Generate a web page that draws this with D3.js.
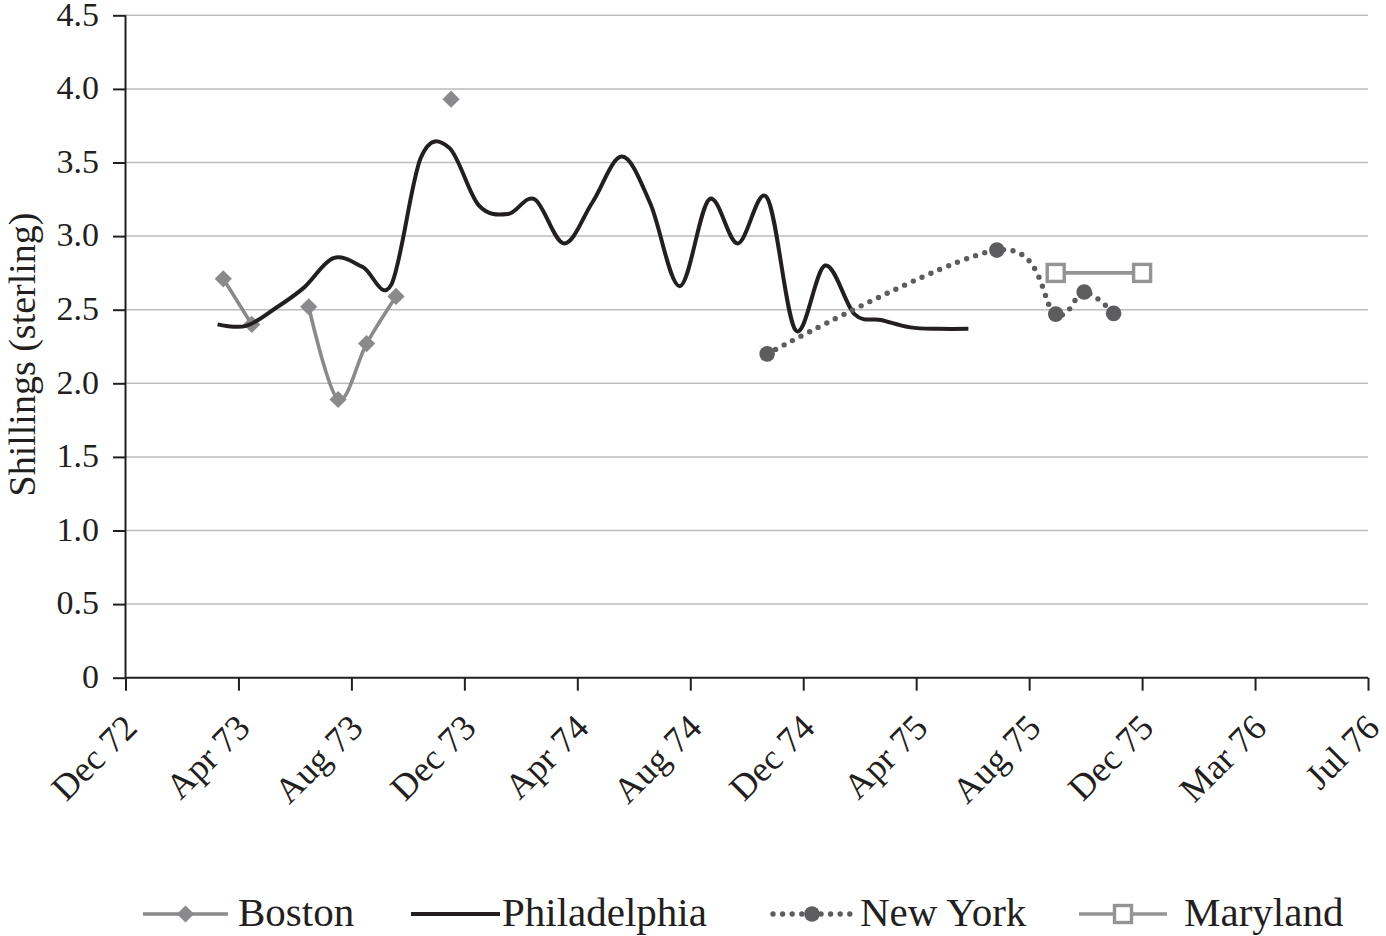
<!DOCTYPE html>
<html lang="en">
<head>
  <meta charset="UTF-8">
  <title>Shillings (sterling)</title>
  <script src="https://d3js.org/d3.v7.min.js"></script>
</head>
<body>
</body>
<style>
  body {
    margin: 0;
    padding: 0;
    background: #fff;
  }

  text {
    font-family: "Liberation Serif", "Times New Roman", serif;
    fill: #231f20;
  }
</style>
<script>
  const width = 1386
  const height = 936

  // axis ticks
  const xTickDates = ["1972-12-25", "1973-04-23", "1973-08-20", "1973-12-17", "1974-04-15", "1974-08-12",
    "1974-12-09", "1975-04-07", "1975-08-04", "1975-12-01", "1976-03-29", "1976-07-26"]
  const xTickLabels = ["Dec 72", "Apr 73", "Aug 73", "Dec 73", "Apr 74", "Aug 74",
    "Dec 74", "Apr 75", "Aug 75", "Dec 75", "Mar 76", "Jul 76"]
  const yTicks = [0, 0.5, 1, 1.5, 2, 2.5, 3, 3.5, 4, 4.5]
  const yTickLabels = ["0", "0.5", "1.0", "1.5", "2.0", "2.5", "3.0", "3.5", "4.0", "4.5"]

  // series
  const bostonDates = ["1973-04-07", "1973-05-07", "1973-06-06", "1973-07-06", "1973-08-06",
    "1973-09-05", "1973-10-06", "1973-11-04", "1973-12-03"]
  const bostonValues = [2.71, 2.40, null, 2.52, 1.89, 2.27, 2.59, null, 3.93]

  const phillyDates = ["1973-04-01", "1973-05-01", "1973-06-01", "1973-07-01", "1973-08-01", "1973-09-01",
    "1973-10-01", "1973-11-01", "1973-12-01", "1974-01-01", "1974-02-01", "1974-03-01", "1974-04-01",
    "1974-05-01", "1974-06-01", "1974-07-01", "1974-08-01", "1974-09-01", "1974-10-01", "1974-11-01",
    "1974-12-01", "1975-01-01", "1975-02-01", "1975-03-01", "1975-04-01", "1975-05-01", "1975-06-01"]
  const phillyValues = [2.40, 2.39, 2.51, 2.65, 2.85, 2.79, 2.67, 3.53, 3.60, 3.21, 3.15, 3.25, 2.95,
    3.23, 3.54, 3.22, 2.66, 3.25, 2.95, 3.26, 2.36, 2.80, 2.47, 2.43, 2.38, 2.37, 2.37]

  const nyDates = ["1974-11-01", "1975-07-01", "1975-09-01", "1975-10-01", "1975-11-01"]
  const nyValues = [2.20, 2.905, 2.47, 2.62, 2.475]

  const marylandDates = ["1975-09-01", "1975-12-01"]
  const marylandValues = [2.75, 2.75]

  const seriesNames = ["Boston", "Philadelphia", "New York", "Maryland"]

  const parse = d3.utcParse("%Y-%m-%d")
  const zip = (dates, values) => dates.map((d, i) => ({ date: parse(d), value: values[i] }))

  const series = [
    { name: seriesNames[0], data: zip(bostonDates, bostonValues), color: '#8a8a8c', width: 3.6, dash: null, smooth: true, marker: 'diamond' },
    { name: seriesNames[1], data: zip(phillyDates, phillyValues), color: '#231f20', width: 4, dash: null, smooth: true, marker: null },
    { name: seriesNames[2], data: zip(nyDates, nyValues), color: '#5d5d5f', width: 5.4, dash: '0 9.6', smooth: true, marker: 'circle' },
    { name: seriesNames[3], data: zip(marylandDates, marylandValues), color: '#949496', width: 3.6, dash: null, smooth: false, marker: 'square' }
  ]

  const plot = { left: 125.5, right: 1368, top: 15.3, bottom: 677.7 }

  const x = d3.scaleUtc()
    .domain([parse(xTickDates[0]), parse(xTickDates[xTickDates.length - 1])])
    .range([plot.left, plot.right])

  const y = d3.scaleLinear()
    .domain([0, 4.5])
    .range([plot.bottom, plot.top])

  const svg = d3.select("body").append("svg")
    .attr("width", width)
    .attr("height", height)

  // gridlines
  svg.append("g")
    .selectAll("line")
    .data(yTicks.filter(d => d > 0))
    .join("line")
    .attr("x1", plot.left)
    .attr("x2", plot.right)
    .attr("y1", d => y(d))
    .attr("y2", d => y(d))
    .attr("stroke", "#bdbdbf")
    .attr("stroke-width", 1.5)

  // y axis
  const yAxis = svg.append("g")
    .attr("transform", `translate(${plot.left},0)`)
    .call(d3.axisLeft(y).tickValues(yTicks).tickSize(12.5).tickPadding(14)
      .tickFormat((d, i) => yTickLabels[i]))
  yAxis.select(".domain").attr("stroke", "#231f20").attr("stroke-width", 2)
    .attr("d", `M0,${plot.top}V${plot.bottom}`)
  yAxis.selectAll(".tick line").attr("stroke", "#231f20").attr("stroke-width", 2)
  yAxis.selectAll(".tick text")
    .attr("font-size", 34)
    .attr("font-family", '"Liberation Serif", serif')
    .attr("fill", "#231f20")
    .attr("dy", "0.29em")

  // x axis
  const xAxis = svg.append("g")
    .attr("transform", `translate(0,${plot.bottom})`)
    .call(d3.axisBottom(x).tickValues(xTickDates.map(parse)).tickSize(13)
      .tickFormat((d, i) => xTickLabels[i]))
  xAxis.select(".domain").attr("stroke", "#231f20").attr("stroke-width", 2)
    .attr("d", `M${plot.left},0H${plot.right}`)
  xAxis.selectAll(".tick line").attr("stroke", "#231f20").attr("stroke-width", 2)
  xAxis.selectAll(".tick text")
    .attr("font-size", 36)
    .attr("font-family", '"Liberation Serif", serif')
    .attr("fill", "#231f20")
    .attr("text-anchor", "end")
    .attr("y", 0)
    .attr("dy", 0)
    .attr("transform", "translate(13,52) rotate(-45)")

  // y axis title
  svg.append("text")
    .attr("transform", `translate(35,${(plot.top + plot.bottom) / 2 + 8}) rotate(-90)`)
    .attr("text-anchor", "middle")
    .attr("font-size", 38)
    .text("Shillings (sterling)")

  const diamond = s => `M0,${-s}L${s},0L0,${s}L${-s},0Z`

  function drawMarker(g, s, cx, cy) {
    if (s.marker === 'diamond') {
      g.append("path").attr("d", diamond(8.6))
        .attr("transform", `translate(${cx},${cy})`)
        .attr("fill", s.color)
    } else if (s.marker === 'circle') {
      g.append("circle").attr("cx", cx).attr("cy", cy).attr("r", 7.8)
        .attr("fill", s.color)
    } else if (s.marker === 'square') {
      g.append("rect").attr("x", cx - 8.5).attr("y", cy - 8.5)
        .attr("width", 17).attr("height", 17)
        .attr("fill", "#fff").attr("stroke", s.color).attr("stroke-width", 3.4)
    }
  }

  // lines
  for (const s of series) {
    const line = d3.line()
      .defined(d => d.value != null)
      .x(d => x(d.date))
      .y(d => y(d.value))
      .curve(s.smooth ? d3.curveCardinal.tension(0) : d3.curveLinear)

    svg.append("path")
      .datum(s.data)
      .attr("fill", "none")
      .attr("stroke", s.color)
      .attr("stroke-width", s.width)
      .attr("stroke-linecap", s.dash ? "round" : "butt")
      .attr("stroke-linejoin", "round")
      .attr("stroke-dasharray", s.dash)
      .attr("d", line)

    const mg = svg.append("g")
    for (const d of s.data.filter(d => d.value != null)) {
      drawMarker(mg, s, x(d.date), y(d.value))
    }
  }

  // legend
  const legendY = 914
  const legendLayout = [
    { x0: 143, x1: 228, tx: 238 },
    { x0: 411, x1: 500, tx: 502 },
    { x0: 773, x1: 851, tx: 860 },
    { x0: 1079, x1: 1167, tx: 1184 }
  ]
  const legend = svg.append("g")
  series.forEach((s, i) => {
    const L = legendLayout[i]
    legend.append("line")
      .attr("x1", L.x0).attr("x2", L.x1)
      .attr("y1", legendY).attr("y2", legendY)
      .attr("stroke", s.color)
      .attr("stroke-width", s.width)
      .attr("stroke-linecap", s.dash ? "round" : "butt")
      .attr("stroke-dasharray", s.dash)
    drawMarker(legend, s, (L.x0 + L.x1) / 2, legendY)
    legend.append("text")
      .attr("x", L.tx)
      .attr("y", legendY + 12)
      .attr("font-size", 41)
      .text(s.name)
  })
</script>
</html>
